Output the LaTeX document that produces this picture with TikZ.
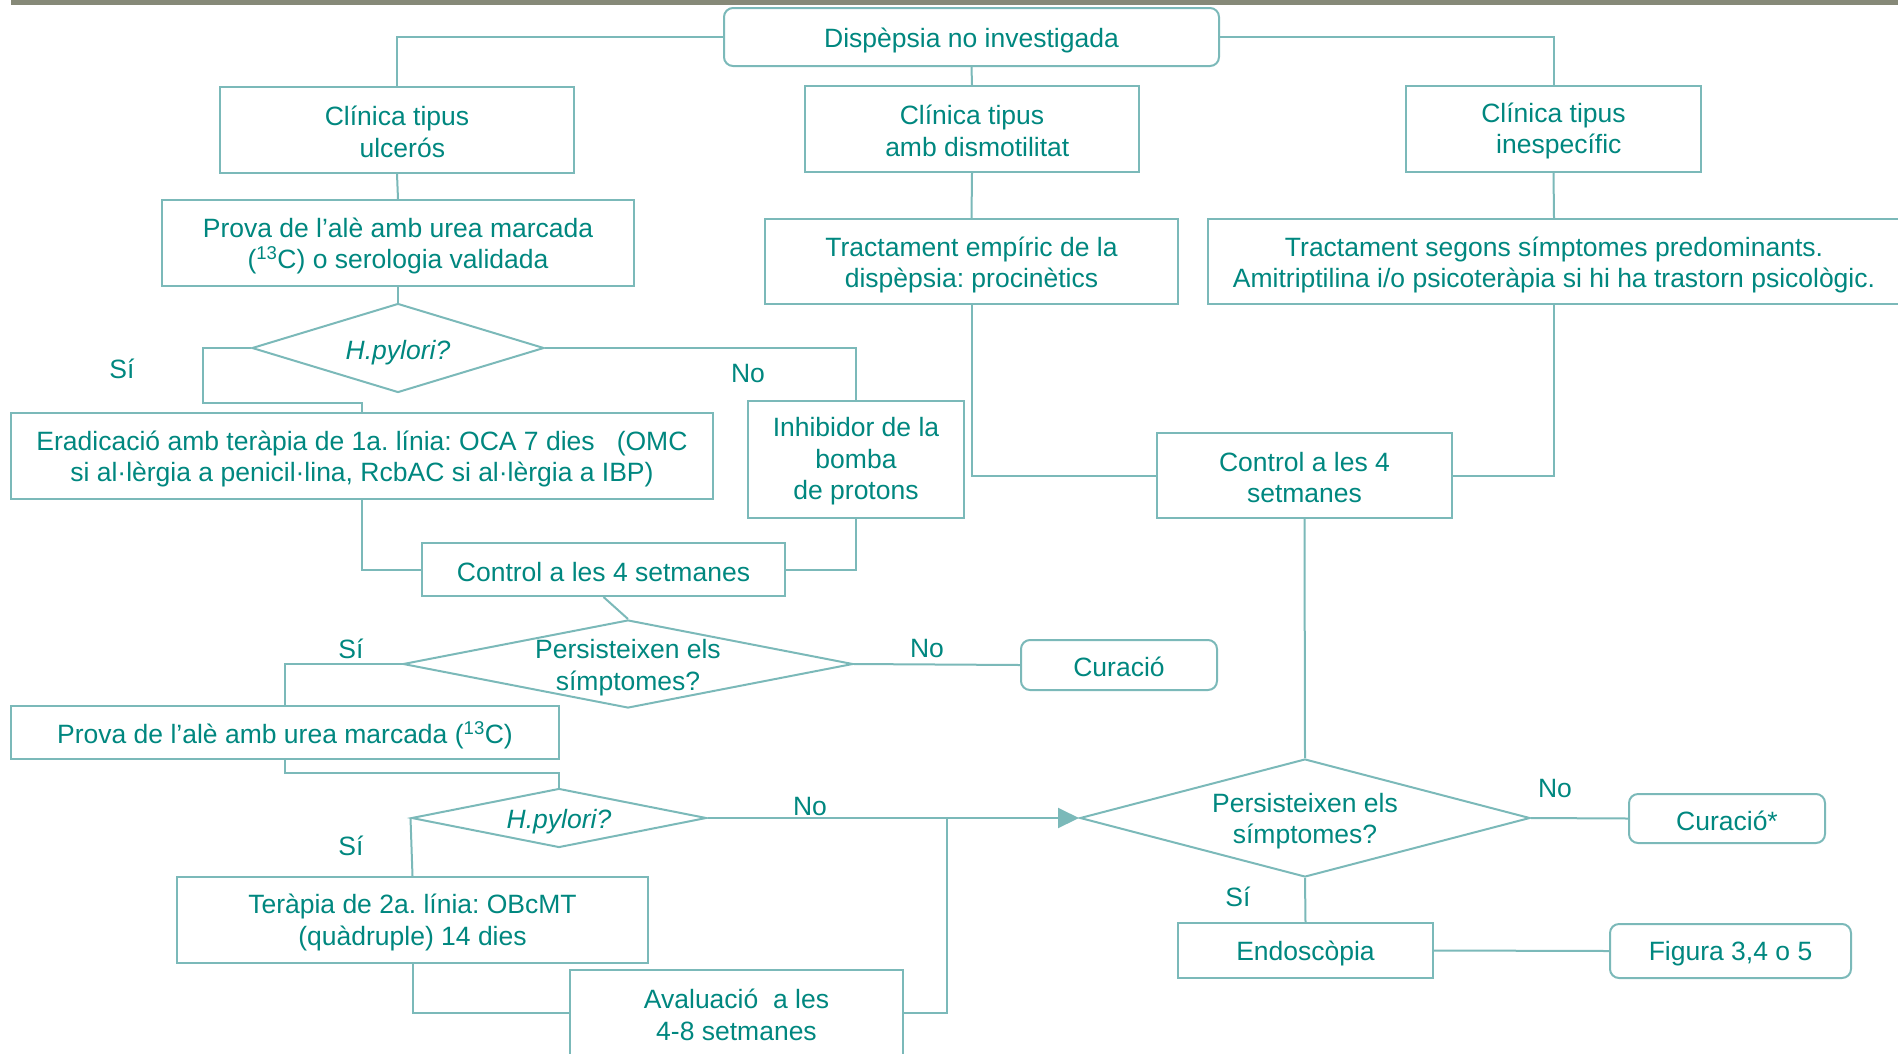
\documentclass[tikz,border=0pt]{standalone}
\usepackage{fontspec}
\setmainfont{Liberation Sans}
\usetikzlibrary{shapes.geometric,arrows.meta}
\definecolor{txtc}{HTML}{00877F}
\definecolor{linec}{HTML}{7BB9B9}
\definecolor{barc}{HTML}{868978}
\frenchspacing
\begin{document}
\begin{tikzpicture}[x=1pt,y=-1pt,
  every node/.style={font=\fontsize{26.5pt}{31.5pt}\selectfont\frenchspacing, text=txtc, align=center, inner sep=0pt},
  box/.style={draw=linec, line width=2pt, rectangle},
  rbox/.style={draw=linec, line width=2pt, rectangle, rounded corners=9pt},
  dia/.style={draw=linec, line width=2pt, diamond},
  conn/.style={draw=linec, line width=2pt},
  lbl/.style={}
]
\useasboundingbox (0,0) rectangle (1898,1053);
\fill[barc] (11,0) rectangle (1898,5);

% box shapes
\node[rbox, minimum width=495pt, minimum height=58pt] (disp) at (971.5,37) {};
\node[box, minimum width=354pt, minimum height=86pt] (ulc) at (397,130) {};
\node[box, minimum width=334pt, minimum height=86pt] (dism) at (972,129) {};
\node[box, minimum width=295pt, minimum height=86pt] (ines) at (1553.5,129) {};
\node[box, minimum width=472pt, minimum height=86pt] (prova1) at (398,243) {};
\node[box, minimum width=413pt, minimum height=85pt] (temp) at (971.5,261.5) {};
\node[box, minimum width=692pt, minimum height=85pt] (tseg) at (1554,261.5) {};
\node[dia, minimum width=292pt, minimum height=89pt] (hp1) at (398,348) {};
\node[box, minimum width=702pt, minimum height=86pt] (erad) at (362,456) {};
\node[box, minimum width=216pt, minimum height=117pt] (inh) at (856,459.5) {};
\node[box, minimum width=363pt, minimum height=53pt] (ctl1) at (603.5,569.5) {};
\node[box, minimum width=295pt, minimum height=85pt] (ctl2) at (1304.5,475.5) {};
\node[dia, minimum width=450pt, minimum height=88pt] (pers1) at (628,664) {};
\node[rbox, minimum width=196pt, minimum height=50pt] (cur1) at (1119,665) {};
\node[box, minimum width=548pt, minimum height=53pt] (prova2) at (285,732.5) {};
\node[dia, minimum width=295pt, minimum height=59pt] (hp2) at (559,818) {};
\node[box, minimum width=471pt, minimum height=86pt] (ter) at (412.5,920) {};
\node[box, minimum width=333pt, minimum height=86pt] (aval) at (736.5,1013) {};
\node[dia, minimum width=450pt, minimum height=118pt] (pers2) at (1305,818) {};
\node[rbox, minimum width=196pt, minimum height=49pt] (cur2) at (1727,818.5) {};
\node[box, minimum width=255pt, minimum height=55pt] (endo) at (1305.5,950.5) {};
\node[rbox, minimum width=241pt, minimum height=54pt] (fig) at (1730.5,951) {};

% texts
\node (dispt) at ([yshift=-3pt]disp.center) {Dispèpsia no investigada};
\node (ulct) at ([yshift=-2pt]ulc.center) {Clínica tipus\\\hspace*{0.4em}ulcerós};
\node (dismt) at ([yshift=-2pt]dism.center) {Clínica tipus\\\hspace*{0.4em}amb dismotilitat};
\node (inest) at ([yshift=-2pt]ines.center) {Clínica tipus\\\hspace*{0.4em}inespecífic};
\node (prova1t) at ([yshift=-3pt]prova1.center) {Prova de l’alè amb urea marcada\\(\textsuperscript{13}C) o serologia validada};
\node (tempt) at ([yshift=-3.5pt]temp.center) {Tractament empíric de la\\dispèpsia: procinètics};
\node (tsegt) at ([yshift=-3.5pt]tseg.center) {Tractament segons símptomes predominants.\\Amitriptilina i/o psicoteràpia si hi ha trastorn psicològic.};
\node (hp1t) at ([yshift=-4.5pt]hp1.center) {\textit{H.pylori?}};
\node (eradt) at ([yshift=-3pt]erad.center) {Eradicació amb teràpia de 1a. línia: OCA 7 dies \ \ (OMC\\si al·lèrgia a penicil·lina, RcbAC si al·lèrgia a IBP)};
\node (inht) at ([yshift=-2pt]inh.center) {Inhibidor de la\\bomba\\de protons};
\node (ctl1t) at ([yshift=-2.5pt]ctl1.center) {Control a les 4 setmanes};
\node (ctl2t) at ([yshift=-2pt]ctl2.center) {Control a les 4\\setmanes};
\node (pers1t) at ([yshift=-3.5pt]pers1.center) {Persisteixen els\\símptomes?};
\node (cur1t) at ([yshift=-2pt]cur1.center) {Curació};
\node (prova2t) at ([yshift=-2.5pt]prova2.center) {Prova de l’alè amb urea marcada (\textsuperscript{13}C)};
\node (hp2t) at ([yshift=-3.5pt]hp2.center) {\textit{H.pylori?}};
\node (tert) at ([yshift=-2.5pt]ter.center) {Teràpia de 2a. línia: OBcMT\\(quàdruple) 14 dies};
\node (avalt) at ([yshift=-2pt]aval.center) {Avaluació \ a les\\4-8 setmanes};
\node (pers2t) at ([yshift=-3pt]pers2.center) {Persisteixen els\\símptomes?};
\node (cur2t) at ([yshift=-2pt]cur2.center) {Curació*};
\node (endot) at ([yshift=-3pt]endo.center) {Endoscòpia};
\node (figt) at ([yshift=-3pt]fig.center) {Figura 3,4 o 5};

% labels
\node[lbl] (l1) at (122,369) {Sí};
\node[lbl] (l2) at (748,374) {No};
\node[lbl] (l3) at (351,649) {Sí};
\node[lbl] (l4) at (927,649) {No};
\node[lbl] (l5) at (810,806) {No};
\node[lbl] (l6) at (351,846) {Sí};
\node[lbl] (l7) at (1555,788) {No};
\node[lbl] (l8) at (1238,897) {Sí};

% junction coordinates
\coordinate (j1) at (203,403);
\coordinate (j2) at (285,773);
\coordinate (j3) at (947,818);

% connectors
\draw[conn] (disp.west) -| (ulc.north);
\draw[conn] (disp.east) -| (ines.north);
\draw[conn] (disp.south) -- (dism.north);
\draw[conn] (ulc.south) -- (prova1.north);
\draw[conn] (dism.south) -- (temp.north);
\draw[conn] (ines.south) -- (tseg.north);
\draw[conn] (prova1.south) -- (hp1.north);
\draw[conn] (hp1.west) -| (j1) -| (erad.north);
\draw[conn] (hp1.east) -| (inh.north);
\draw[conn] (erad.south) |- (ctl1.west);
\draw[conn] (inh.south) |- (ctl1.east);
\draw[conn] (ctl1.south) -- (pers1.north);
\draw[conn] (temp.south) |- (ctl2.west);
\draw[conn] (tseg.south) |- (ctl2.east);
\draw[conn] (ctl2.south) -- (pers2.north);
\draw[conn] (pers1.west) -| (prova2.north);
\draw[conn] (pers1.east) -- (cur1.west);
\draw[conn] (prova2.south) -- (j2) -| (hp2.north);
\draw[conn] (hp2.west) -- (ter.north);
\draw[conn] (ter.south) |- (aval.west);
\draw[conn] (aval.east) -| (j3);
\draw[conn, -{Triangle[length=21pt,width=20pt]}] (hp2.east) -- (pers2.west);
\draw[conn] (pers2.east) -- (cur2.west);
\draw[conn] (pers2.south) -- (endo.north);
\draw[conn] (endo.east) -- (fig.west);
\end{tikzpicture}
\end{document}
